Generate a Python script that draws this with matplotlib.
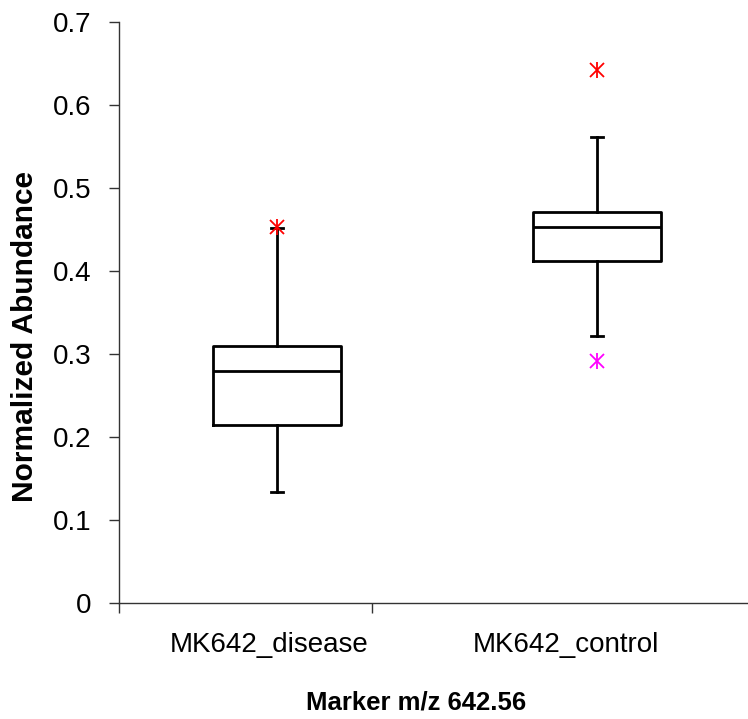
import matplotlib.pyplot as plt

# data
groups = ['MK642_disease', 'MK642_control']
q1 = [0.215, 0.412]
med = [0.280, 0.453]
q3 = [0.310, 0.4715]
whislo = [0.134, 0.322]
whishi = [0.452, 0.561]
high_out = [0.453, 0.642]
low_out = [None, 0.291]

yticks = [0, 0.1, 0.2, 0.3, 0.4, 0.5, 0.6, 0.7]

plt.rcParams['font.family'] = ['Liberation Sans', 'DejaVu Sans']

fig = plt.figure(figsize=(7.48, 7.19), dpi=100)
ax = fig.add_axes([119/748, 116/719, 629/748, 581/719])

pos = [0.625, 1.889]
stats = []
for i in range(len(groups)):
    stats.append({'med': med[i], 'q1': q1[i], 'q3': q3[i],
                  'whislo': whislo[i], 'whishi': whishi[i], 'fliers': []})

lw = 2.0
ax.bxp(stats, positions=pos, widths=0.506, capwidths=0.05, showfliers=False,
       boxprops=dict(color='black', linewidth=lw),
       medianprops=dict(color='black', linewidth=lw),
       whiskerprops=dict(color='black', linewidth=lw),
       capprops=dict(color='black', linewidth=lw))

# outliers drawn as Excel-style stars
for i in range(len(groups)):
    for v, c in [(high_out[i], '#FF0000'), (low_out[i], '#FF00FF')]:
        if v is None:
            continue
        ax.plot(pos[i], v, marker='x', ms=10, mew=1.3, color=c, zorder=5)
        ax.plot(pos[i], v, marker='|', ms=12, mew=1.3, color=c, zorder=5)

ax.set_xlim(0, 629/253)
ax.set_ylim(0, 0.7)
ax.set_yticks(yticks)
ax.set_yticklabels(['%g' % t for t in yticks], fontsize=20)

ax.set_xticks([0, 1])
ax.set_xticklabels(['', ''])
ax.set_xticks([0.593, 1.767], minor=True)
ax.set_xticklabels(groups, minor=True, fontsize=20)
ax.tick_params(axis='x', which='major', length=7, width=1, color='#333333', direction='out')
ax.tick_params(axis='x', which='minor', length=0, pad=21)
ax.tick_params(axis='y', length=7, width=1, color='#333333', direction='out', pad=13)

for s in ['top', 'right']:
    ax.spines[s].set_visible(False)
for s in ['left', 'bottom']:
    ax.spines[s].set_color('#333333')
    ax.spines[s].set_linewidth(1)

ax.set_xlabel('Marker m/z 642.56', fontsize=18.5, fontweight='bold')
ax.xaxis.set_label_coords((416-119)/629, (603-702)/581)
ax.xaxis.label.set_va('center')
ax.set_ylabel('Normalized Abundance', fontsize=21.5, fontweight='bold')
ax.yaxis.set_label_coords((25-119)/629, (603-336.5)/581)
ax.yaxis.label.set_va('center')

fig.savefig('out.png', dpi=100)
